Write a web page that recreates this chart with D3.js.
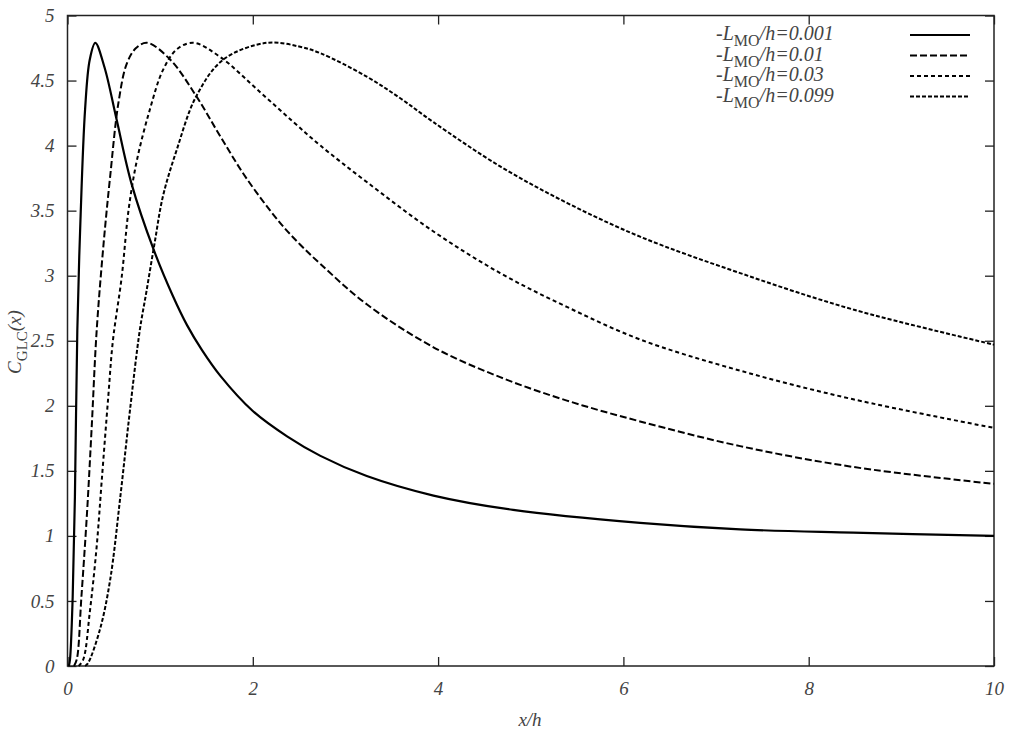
<!DOCTYPE html>
<html>
<head>
<meta charset="utf-8">
<script src="https://cdn.jsdelivr.net/npm/d3@7"></script>
<style>
  body { margin: 0; background: #fff; }
  svg { display: block; }
</style>
</head>
<body>
<div id="chart"></div>
<script>
// ---- data ----
var seriesNames = ["0.001", "0.01", "0.03", "0.099"];

var x001 = [0.015, 0.027, 0.056, 0.08, 0.106, 0.14, 0.19, 0.24, 0.30, 0.40, 0.53, 0.69, 0.93, 1.14, 1.29, 1.45, 1.65, 2.0, 2.37, 2.73, 3.23, 3.95, 4.81, 6.18, 7.26, 8.48, 10];
var y001 = [0, 0.05, 0.53, 1.3, 2.58, 3.43, 4.28, 4.66, 4.79, 4.6, 4.2, 3.71, 3.2, 2.84, 2.62, 2.43, 2.23, 1.96, 1.765, 1.615, 1.46, 1.31, 1.20, 1.10, 1.05, 1.025, 1.0];

var x01 = [0.07, 0.10, 0.15, 0.21, 0.26, 0.315, 0.39, 0.46, 0.55, 0.64, 0.74, 0.86, 1.11, 1.39, 1.65, 1.93, 2.29, 2.51, 2.73, 3.23, 3.95, 4.67, 5.39, 6.18, 7.26, 8.48, 10];
var y01 = [0, 0.05, 0.53, 1.17, 1.82, 2.58, 3.25, 3.76, 4.33, 4.63, 4.75, 4.79, 4.66, 4.38, 4.07, 3.75, 3.41, 3.24, 3.09, 2.78, 2.45, 2.22, 2.04, 1.88, 1.69, 1.53, 1.40];

var x03 = [0.12, 0.17, 0.24, 0.315, 0.37, 0.44, 0.49, 0.585, 0.66, 0.75, 0.89, 1.03, 1.18, 1.36, 1.65, 2.08, 2.44, 2.73, 3.23, 3.95, 4.67, 5.39, 6.18, 7.26, 8.48, 10];
var y03 = [0, 0.05, 0.41, 0.92, 1.43, 2.07, 2.5, 2.99, 3.51, 3.89, 4.28, 4.58, 4.74, 4.79, 4.68, 4.41, 4.18, 4.0, 3.72, 3.34, 3.02, 2.76, 2.51, 2.27, 2.05, 1.83];

var x099 = [0.19, 0.22, 0.35, 0.46, 0.57, 0.67, 0.78, 0.85, 0.94, 1.03, 1.18, 1.39, 1.68, 2.15, 2.51, 2.73, 3.23, 3.6, 3.95, 4.67, 5.39, 6.18, 7.26, 8.48, 10];
var y099 = [0, 0.02, 0.28, 0.66, 1.30, 1.94, 2.58, 2.87, 3.25, 3.61, 3.97, 4.38, 4.66, 4.79, 4.76, 4.71, 4.53, 4.36, 4.18, 3.84, 3.56, 3.30, 3.02, 2.74, 2.47];

var xTicks = [0, 2, 4, 6, 8, 10];
var yTicks = [0, 0.5, 1, 1.5, 2, 2.5, 3, 3.5, 4, 4.5, 5];

// ---- layout ----
var width = 1024, height = 734;
var margin = { top: 15.5, right: 30, bottom: 68, left: 67.5 };
var serif = '"Liberation Serif", "Times New Roman", Times, "DejaVu Serif", serif';
var dashes = [null, "7,3", "4,3", "4,2"];
var lineWidths = [2.2, 2, 2, 2];

var svg = d3.select("#chart")
  .append("svg")
  .attr("width", width)
  .attr("height", height);

var xScale = d3.scaleLinear()
  .domain([0, 10])
  .range([margin.left, width - margin.right]);

var yScale = d3.scaleLinear()
  .domain([0, 5])
  .range([height - margin.bottom, margin.top]);

var tickLen = 9;

// Axes with inward ticks on all four sides
var axes = [
  { axis: d3.axisBottom(xScale).tickValues(xTicks).tickSize(-tickLen).tickPadding(16), t: `translate(0,${yScale(0)})`, labels: true },
  { axis: d3.axisTop(xScale).tickValues(xTicks).tickSize(-tickLen), t: `translate(0,${yScale(5)})`, labels: false },
  { axis: d3.axisLeft(yScale).tickValues(yTicks).tickSize(-tickLen).tickPadding(13), t: `translate(${xScale(0)},0)`, labels: true },
  { axis: d3.axisRight(yScale).tickValues(yTicks).tickSize(-tickLen), t: `translate(${xScale(10)},0)`, labels: false }
];

axes.forEach(function(a) {
  var g = svg.append("g")
    .attr("transform", a.t)
    .call(a.axis.tickFormat(d => d))
    .attr("font-family", serif);
  g.select(".domain").remove();
  g.selectAll(".tick line").attr("stroke", "#222").attr("stroke-width", 1.3);
  g.selectAll(".tick text")
    .style("font-family", serif)
    .style("font-size", "19px")
    .style("font-style", "italic")
    .attr("fill", "#444")
    .style("display", a.labels ? null : "none");
});

// frame
svg.append("rect")
  .attr("x", xScale(0))
  .attr("y", yScale(5))
  .attr("width", xScale(10) - xScale(0))
  .attr("height", yScale(0) - yScale(5))
  .attr("fill", "none")
  .attr("stroke", "#222")
  .attr("stroke-width", 1.5);

// curves
var seriesX = [x001, x01, x03, x099];
var seriesY = [y001, y01, y03, y099];

var line = d3.line()
  .x(d => xScale(d[0]))
  .y(d => yScale(d[1]))
  .curve(d3.curveCatmullRom.alpha(0.5));

seriesX.forEach(function(xs, i) {
  var pts = xs.map((v, j) => [v, seriesY[i][j]]);
  svg.append("path")
    .datum(pts)
    .attr("d", line)
    .attr("fill", "none")
    .attr("stroke", "#000")
    .attr("stroke-width", lineWidths[i])
    .attr("stroke-dasharray", dashes[i]);
});

// legend
var legend = svg.append("g").attr("class", "legend");
seriesNames.forEach(function(name, i) {
  var y = 40 + i * 20.5;
  var t = legend.append("text")
    .attr("x", 716)
    .attr("y", y)
    .attr("fill", "#444")
    .style("font-family", serif)
    .style("font-size", "20px")
    .style("font-style", "italic");
  t.append("tspan").text("-L");
  t.append("tspan")
    .attr("dy", 6)
    .style("font-size", "16px")
    .style("font-style", "normal")
    .text("MO");
  t.append("tspan").attr("dy", -6).text("/h=" + name);

  legend.append("line")
    .attr("x1", 910)
    .attr("x2", 970)
    .attr("y1", y - 5)
    .attr("y2", y - 5)
    .attr("stroke", "#000")
    .attr("stroke-width", lineWidths[i])
    .attr("stroke-dasharray", dashes[i]);
});

// axis titles
svg.append("text")
  .attr("x", 530)
  .attr("y", 726)
  .attr("text-anchor", "middle")
  .attr("fill", "#444")
  .style("font-family", serif)
  .style("font-size", "19px")
  .style("font-style", "italic")
  .text("x/h");

var yl = svg.append("text")
  .attr("text-anchor", "middle")
  .attr("transform", `translate(${21},${342}) rotate(-90)`)
  .attr("fill", "#444")
  .style("font-family", serif)
  .style("font-size", "19px")
  .style("font-style", "italic");
yl.append("tspan").text("C");
yl.append("tspan").attr("dy", 6).style("font-size", "15px").style("font-style", "normal").text("GLC");
yl.append("tspan").attr("dy", -6).text("(x)");
</script>
</body>
</html>
